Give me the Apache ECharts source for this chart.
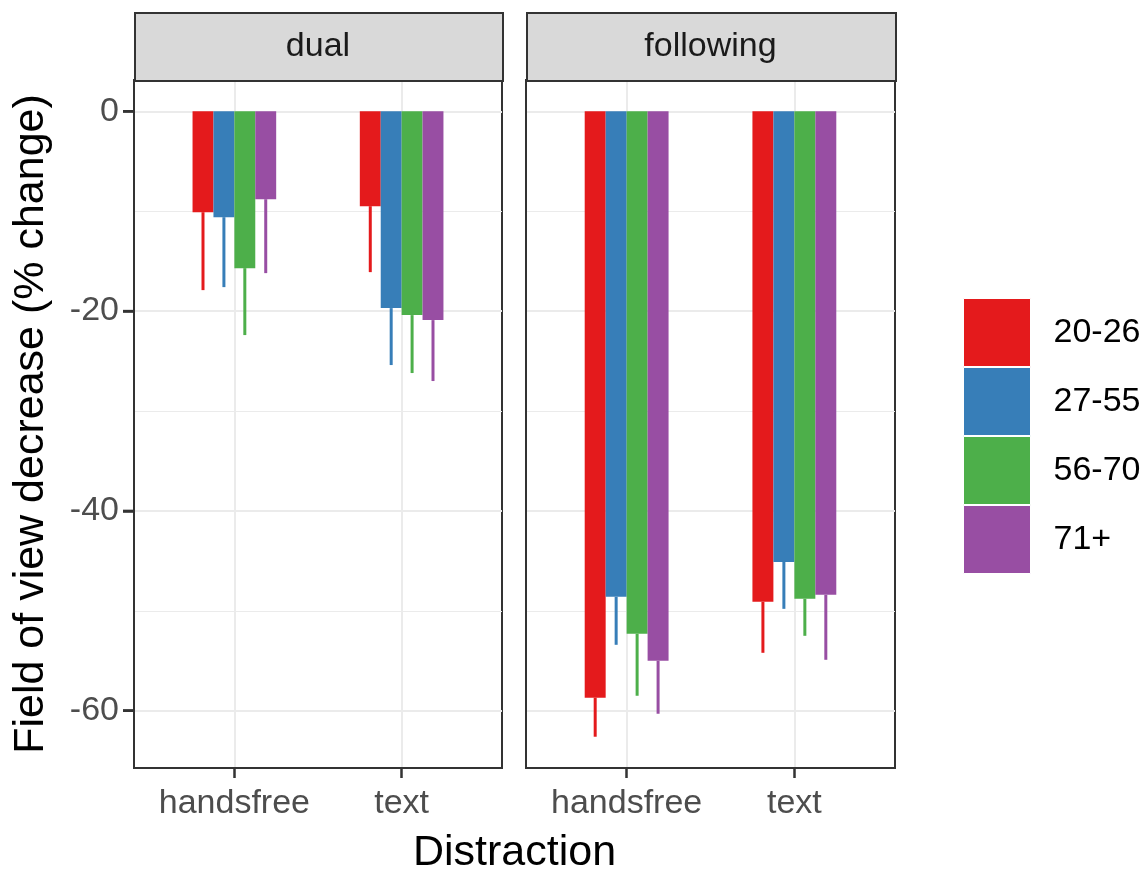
<!DOCTYPE html>
<html>
<head>
<meta charset="utf-8">
<script src="https://cdn.jsdelivr.net/npm/echarts@6/dist/echarts.min.js"></script>
<style>
html,body{margin:0;padding:0;background:#fff;}
#chart{width:1145px;height:871px;}
</style>
</head>
<body>
<div id="chart"></div>
<script>
// ---- data ----
var panels = ['dual', 'following'];
var distractions = ['handsfree', 'text'];
var groups = ['20-26', '27-55', '56-70', '71+'];
var colors = ['#E41A1C', '#377EB8', '#4DAF4A', '#984EA3'];
var yTicks = [0, -20, -40, -60];
var yMinorTicks = [-10, -30, -50];

// mean values [handsfree, text]
var dual_20_26 = [-10.1, -9.5];
var dual_27_55 = [-10.6, -19.7];
var dual_56_70 = [-15.7, -20.4];
var dual_71p = [-8.8, -20.9];
// lower error bounds [handsfree, text]
var dual_20_26_low = [-17.9, -16.1];
var dual_27_55_low = [-17.6, -25.4];
var dual_56_70_low = [-22.4, -26.2];
var dual_71p_low = [-16.2, -27.0];

var following_20_26 = [-58.7, -49.1];
var following_27_55 = [-48.6, -45.1];
var following_56_70 = [-52.3, -48.8];
var following_71p = [-55.0, -48.4];
var following_20_26_low = [-62.6, -54.2];
var following_27_55_low = [-53.4, -49.8];
var following_56_70_low = [-58.5, -52.5];
var following_71p_low = [-60.3, -54.9];

var values = [
  [dual_20_26, dual_27_55, dual_56_70, dual_71p],
  [following_20_26, following_27_55, following_56_70, following_71p]
];
var lows = [
  [dual_20_26_low, dual_27_55_low, dual_56_70_low, dual_71p_low],
  [following_20_26_low, following_27_55_low, following_56_70_low, following_71p_low]
];

// ---- layout ----
var FONT = 'Liberation Sans, Arial, Helvetica, sans-serif';
var panelLeft = [134, 526];
var panelWidth = [368, 369];
var panelTop = 80, panelHeight = 688;
var stripTop = 12, stripHeight = 68;
var xMin = 0.4, xMax = 2.6;

// y range with 5% expansion (ggplot style)
var allVals = [0];
lows.forEach(function (p) { p.forEach(function (g) { allVals = allVals.concat(g); }); });
values.forEach(function (p) { p.forEach(function (g) { allVals = allVals.concat(g); }); });
var dMin = Math.min.apply(null, allVals), dMax = Math.max.apply(null, allVals);
var span = dMax - dMin;
var yMin = dMin - 0.05 * span, yMax = dMax + 0.05 * span;

var dodge = 0.5, nG = groups.length, barW = dodge / nG;

var grids = [], xAxes = [], yAxes = [], series = [], graphics = [];
panels.forEach(function (pn, pi) {
  grids.push({
    left: panelLeft[pi], top: panelTop, width: panelWidth[pi], height: panelHeight,
    show: true, borderColor: '#333333', borderWidth: 2
  });
  xAxes.push({
    type: 'value', gridIndex: pi, min: xMin, max: xMax,
    axisLine: { show: true, onZero: false, lineStyle: { color: '#333333', width: 2 } },
    axisTick: { show: true, length: 10, customValues: [1, 2], lineStyle: { color: '#333333', width: 2.5 } },
    axisLabel: {
      show: true, customValues: [1, 2], margin: 19,
      formatter: function (v) { return distractions[Math.round(v) - 1]; },
      color: '#4D4D4D', fontSize: 34, fontFamily: FONT
    },
    splitLine: { show: true, lineStyle: { color: '#EBEBEB', width: 2 } }
  });
  // primary y axis (major grid + labels)
  yAxes.push({
    type: 'value', gridIndex: pi, min: yMin, max: yMax, position: 'left',
    name: pi === 0 ? 'Field of view decrease (% change)' : '',
    nameLocation: 'middle', nameGap: 81, nameRotate: 90,
    nameTextStyle: { color: '#000', fontSize: 43, fontFamily: FONT },
    axisLine: { show: true, onZero: false, lineStyle: { color: '#333333', width: 2 } },
    axisTick: { show: pi === 0, length: 11, customValues: yTicks, lineStyle: { color: '#333333', width: 2.5 } },
    axisLabel: { show: pi === 0, customValues: yTicks, margin: 15, color: '#4D4D4D', fontSize: 34, fontFamily: FONT },
    splitLine: { show: true, lineStyle: { color: '#EBEBEB', width: 2 } }
  });
});
// minor gridlines on secondary y axes
panels.forEach(function (pn, pi) {
  yAxes.push({
    type: 'value', gridIndex: pi, min: yMin, max: yMax, position: 'right',
    axisLine: { show: false, onZero: false }, axisLabel: { show: false },
    axisTick: { show: false, customValues: yMinorTicks },
    splitLine: { show: true, lineStyle: { color: '#EBEBEB', width: 1.2 } }
  });
});

panels.forEach(function (pn, pi) {
  groups.forEach(function (gn, gi) {
    var data = distractions.map(function (d, di) {
      return [di + 1, values[pi][gi][di], lows[pi][gi][di]];
    });
    var off = (gi - (nG - 1) / 2) * barW;
    series.push({
      type: 'custom', name: gn, xAxisIndex: pi, yAxisIndex: pi, z: 3,
      itemStyle: { color: colors[gi] },
      encode: { x: 0, y: [1, 2] },
      data: data,
      renderItem: (function (offset, col) {
        return function (params, api) {
          var x = api.value(0) + offset;
          var v = api.value(1), lo = api.value(2);
          var p0 = api.coord([x - barW / 2, 0]);
          var p1 = api.coord([x + barW / 2, v]);
          var e0 = api.coord([x, v]);
          var e1 = api.coord([x, lo]);
          return {
            type: 'group',
            children: [
              { type: 'rect', shape: { x: p0[0], y: Math.min(p0[1], p1[1]), width: p1[0] - p0[0], height: Math.abs(p1[1] - p0[1]) },
                style: { fill: col } },
              { type: 'line', shape: { x1: e0[0], y1: e0[1], x2: e1[0], y2: e1[1] },
                style: { stroke: col, lineWidth: 3 } }
            ]
          };
        };
      })(off, colors[gi])
    });
  });
  // strip
  graphics.push({
    type: 'rect', left: panelLeft[pi], top: stripTop, z: 10,
    shape: { x: 0, y: 0, width: panelWidth[pi], height: stripHeight },
    style: { fill: '#D9D9D9', stroke: '#333333', lineWidth: 2 }
  });
  graphics.push({
    type: 'text', z: 11, x: panelLeft[pi] + panelWidth[pi] / 2, y: stripTop + stripHeight / 2 + 1,
    style: { text: pn, fill: '#1A1A1A', font: '34px ' + FONT, textAlign: 'center', textVerticalAlign: 'middle' }
  });
});

graphics.push({
  type: 'text', z: 11, x: (panelLeft[0] + panelLeft[1] + panelWidth[1]) / 2, y: 853,
  style: { text: 'Distraction', fill: '#000', font: '43px ' + FONT, textAlign: 'center', textVerticalAlign: 'middle' }
});

var chart = echarts.init(document.getElementById('chart'), null, { renderer: 'canvas' });
chart.setOption({
  animation: false,
  backgroundColor: '#fff',
  color: colors,
  textStyle: { fontFamily: FONT },
  grid: grids,
  xAxis: xAxes,
  yAxis: yAxes,
  legend: {
    orient: 'vertical', left: 963, top: 298, padding: 0,
    data: groups, icon: 'rect', itemWidth: 67, itemHeight: 68, itemGap: 0,
    itemStyle: { borderColor: '#fff', borderWidth: 1 },
    textStyle: { color: '#000', fontSize: 34, fontFamily: FONT, padding: [0, 0, 0, 18] }
  },
  series: series
});

// y-axis tick marks on the left panel, positioned through the axis scale
yTicks.forEach(function (t) {
  var p = chart.convertToPixel({ gridIndex: 0 }, [xMin, t]);
  graphics.push({
    type: 'line', z: 20, silent: true,
    shape: { x1: p[0] - 11, y1: p[1], x2: p[0], y2: p[1] },
    style: { stroke: '#333333', lineWidth: 2.5 }
  });
});
chart.setOption({ graphic: graphics });
</script>
</body>
</html>
